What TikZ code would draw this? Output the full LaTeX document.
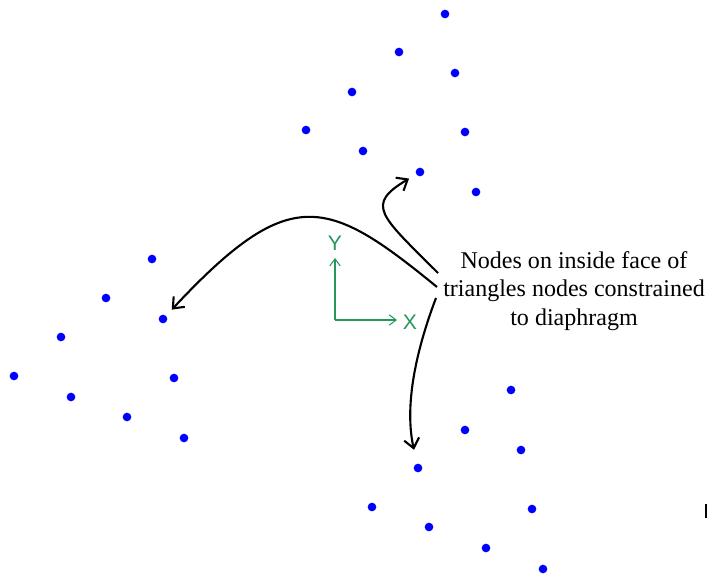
\documentclass[tikz,border=0pt]{standalone}
\usepackage{fontspec}
\setmainfont{Liberation Serif}
\setsansfont{Liberation Sans}
\usetikzlibrary{positioning,arrows.meta}

\definecolor{axisgreen}{RGB}{40,150,90}

\tikzset{
    dot/.style={circle, fill=blue, inner sep=0pt, minimum size=0.26cm},
    pointer/.style={line width=1.8pt, -{Straight Barb[length=8pt,width=13pt,line width=1.8pt]}, shorten >=7pt},
    axis/.style={axisgreen, line width=0.9pt, -{Straight Barb[length=6pt,width=9pt]}}
}

\begin{document}
\begin{tikzpicture}[x=0.03cm, y=-0.03cm]
    \useasboundingbox (0,0) rectangle (708,585);

    % Nodos superiores
    \foreach \n/\px/\py in {t1/445/14, t2/399/52, t3/455/73, t4/352/92, t5/306/130,
                            t6/465/132, t7/363/151, t8/420/172, t9/476/192}
        \node[dot] (\n) at (\px,\py) {};

    % Nodos izquierdos
    \foreach \n/\px/\py in {l1/152/259, l2/106/298, l3/163/319, l4/61/337, l5/14/376,
                            l6/174/378, l7/71/397, l8/127/417, l9/184/438}
        \node[dot] (\n) at (\px,\py) {};

    % Nodos inferiores
    \foreach \n/\px/\py in {b1/511/390, b2/465/430, b3/521/450, b4/418/468, b5/372/507,
                            b6/532/509, b7/429/527, b8/486/548, b9/543/569}
        \node[dot] (\n) at (\px,\py) {};

    % Ejes
    \coordinate (origin) at (335,320);
    \coordinate (yend) at (335,258);
    \coordinate (xend) at (397,320);
    \draw[axis] (origin) -- (yend);
    \draw[axis] (origin) -- (xend);
    \node[axisgreen, font=\sffamily\fontsize{18}{18}\selectfont] (ylab) at (335,243) {Y};
    \node[axisgreen, font=\sffamily\fontsize{18}{18}\selectfont] (xlab) at (410,322) {X};

    % Nota
    \node[align=center, font=\fontsize{20.5}{24.5}\selectfont] (note) at (574,291)
        {Nodes on inside face of\\triangles nodes constrained\\to diaphragm};

    % Flechas
    \coordinate (s1) at (437,287);
    \coordinate (s2) at (438,273);
    \coordinate (s3) at (436,298);
    \draw[pointer] (s1) .. controls (327,197) and (290,183) .. (l3);
    \draw[pointer] (s2) .. controls (380,215) and (365,205) .. (t8);
    \draw[pointer, shorten >=12pt] (s3) .. controls (420,340) and (403,400) .. (b4);

    % Marca recortada
    \draw[line width=0.9pt] (706,504) -- (706,518);
\end{tikzpicture}
\end{document}
